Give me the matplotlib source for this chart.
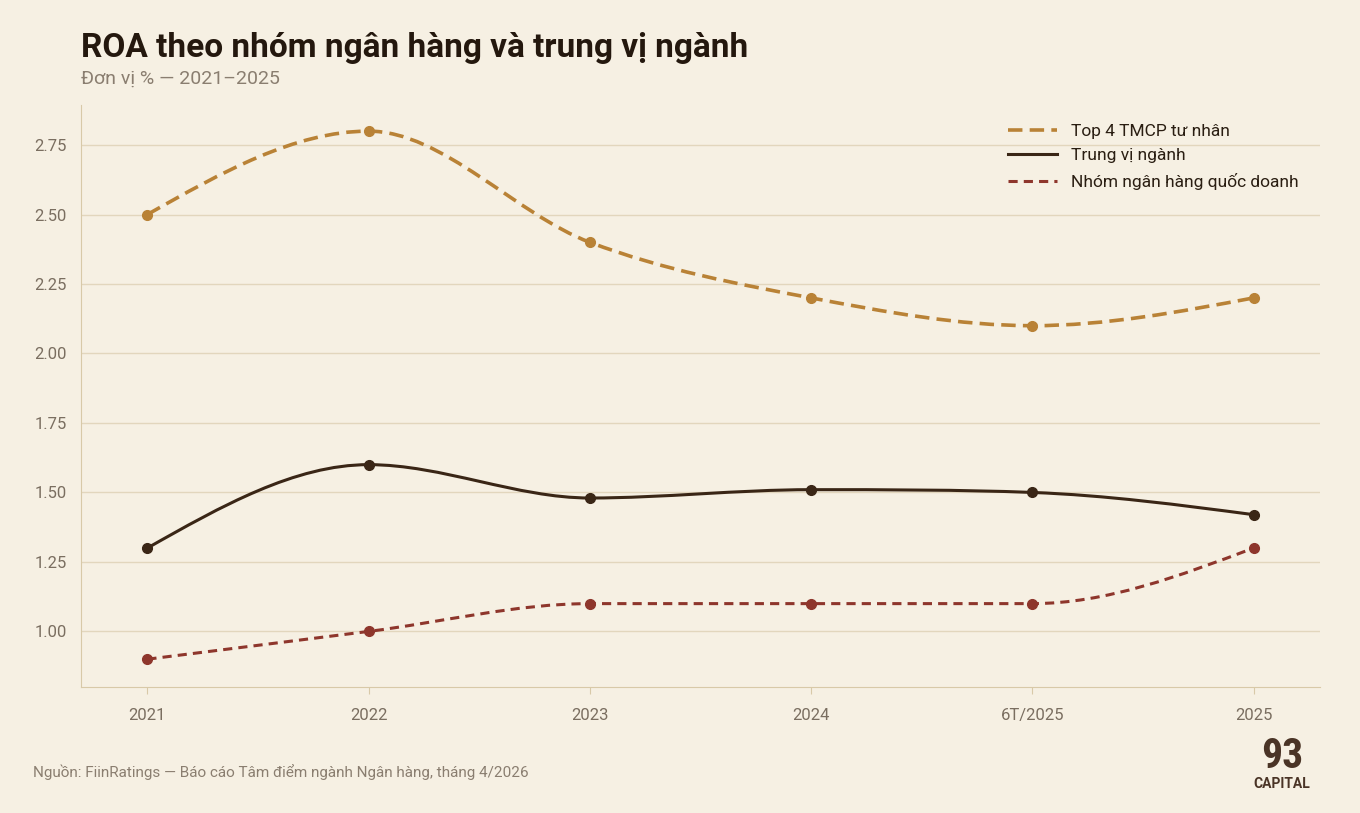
import matplotlib.pyplot as plt
import numpy as np
from matplotlib.path import Path
from matplotlib.patches import PathPatch

plt.rcParams['font.family'] = ['Roboto', 'DejaVu Sans']

PERIODS = ["2021", "2022", "2023", "2024", "6T/2025", "2025"]
TOP4 = [2.5, 2.8, 2.4, 2.2, 2.1, 2.2]
MEDIAN = [1.3, 1.6, 1.48, 1.51, 1.5, 1.42]
STATE = [0.9, 1.0, 1.1, 1.1, 1.1, 1.3]

BG = "#f6f0e3"
GRID = "#e2d6bd"


def monotone_path(x, y):
    """Monotone cubic (Fritsch-Carlson) as Bezier path."""
    x = np.asarray(x, float)
    y = np.asarray(y, float)
    h = np.diff(x)
    d = np.diff(y) / h
    m = np.zeros_like(y)
    m[0], m[-1] = d[0], d[-1]
    for i in range(1, len(y) - 1):
        if d[i - 1] * d[i] <= 0:
            m[i] = 0
        else:
            m[i] = (h[i - 1] + h[i]) * d[i - 1] * d[i] / (h[i] * d[i - 1] + h[i - 1] * d[i]) * 1.0
            m[i] = (d[i - 1] * h[i] + d[i] * h[i - 1]) / (h[i - 1] + h[i])
            m[i] = np.sign(d[i]) * min(abs(m[i]), 3 * min(abs(d[i - 1]), abs(d[i])))
    # endpoint tangents like d3 monotoneX
    m[0] = (3 * d[0] - m[1]) / 2
    m[-1] = (3 * d[-1] - m[-2]) / 2
    verts = [(x[0], y[0])]
    codes = [Path.MOVETO]
    for i in range(len(x) - 1):
        dx = h[i] / 3
        verts += [(x[i] + dx, y[i] + m[i] * dx), (x[i + 1] - dx, y[i + 1] - m[i + 1] * dx), (x[i + 1], y[i + 1])]
        codes += [Path.CURVE4] * 3
    return Path(verts, codes)


fig = plt.figure(figsize=(13.6, 8.13), dpi=100, facecolor=BG)
ax = fig.add_axes([81 / 1360, 1 - 687 / 813, 1239 / 1360, 582 / 813], facecolor=BG)
xs = np.arange(len(PERIODS))

series = [
    (TOP4, "Top 4 TMCP tư nhân", "#b98236", (0, (4, 2)), 2.6),
    (MEDIAN, "Trung vị ngành", "#3a2616", "-", 2.2),
    (STATE, "Nhóm ngân hàng quốc doanh", "#8e362c", (0, (3, 2)), 2.2),
]
for vals, label, color, ls, lw in series:
    ax.add_patch(PathPatch(monotone_path(xs, vals), fill=False, edgecolor=color,
                           linestyle=ls, linewidth=lw, zorder=3))
    ax.plot(xs, vals, "o", color=color, markersize=7, zorder=4)
    ax.plot([], [], color=color, linestyle=ls, linewidth=lw, label=label)

ax.set_xlim(-0.3, 5.3)
ax.set_ylim(0.80, 2.894)
ax.set_xticks(xs)
ax.set_xticklabels(PERIODS)
ax.set_yticks([1.0, 1.25, 1.5, 1.75, 2.0, 2.25, 2.5, 2.75])
ax.yaxis.set_major_formatter(plt.FuncFormatter(lambda v, p: f"{v:.2f}"))
ax.grid(axis="y", color=GRID, linewidth=1)
ax.set_axisbelow(True)
for s in ["top", "right"]:
    ax.spines[s].set_visible(False)
for s in ["left", "bottom"]:
    ax.spines[s].set_color("#d8c9a8")
ax.tick_params(colors="#7a6e60", labelsize=12, length=0, pad=10)
ax.tick_params(axis="x", length=5, color="#d8c9a8")

leg = ax.legend(loc="upper right", frameon=False, fontsize=12.5, handlelength=2.8,
                bbox_to_anchor=(0.995, 0.995), labelspacing=0.55)
for t in leg.get_texts():
    t.set_color("#2a1e12")

fig.text(81 / 1360, 1 - 48 / 813, "ROA theo nhóm ngân hàng và trung vị ngành", fontsize=24,
         fontweight="bold", color="#24180e", va="center")
fig.text(81 / 1360, 1 - 79 / 813, "Đơn vị % — 2021–2025", fontsize=14, color="#8a7e70", va="center")
fig.text(33 / 1360, 1 - 772 / 813, "Nguồn: FiinRatings — Báo cáo Tâm điểm ngành Ngân hàng, tháng 4/2026",
         fontsize=11, color="#8a7e70", va="center")
fig.text(1282 / 1360, 1 - 756 / 813, "93", fontsize=30, fontweight="bold", color="#4a3426",
         ha="center", va="center", family=["Roboto Condensed", "Roboto", "DejaVu Sans"], stretch="condensed")
fig.text(1282 / 1360, 1 - 784 / 813, "CAPITAL", fontsize=10, fontweight="bold", color="#4a3426",
         ha="center", va="center")

fig.savefig("out.png", dpi=100, facecolor=BG)
